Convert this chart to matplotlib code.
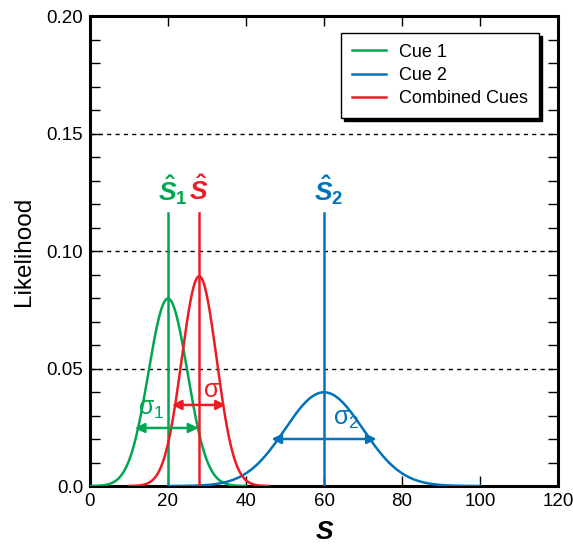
import numpy as np
import matplotlib
matplotlib.use("Agg")
import matplotlib.pyplot as plt
from matplotlib.ticker import MultipleLocator

plt.rcParams['font.family'] = ['Liberation Sans', 'DejaVu Sans']
plt.rcParams['mathtext.fontset'] = 'custom'
plt.rcParams['mathtext.it'] = 'Liberation Sans:italic:bold'
plt.rcParams['mathtext.rm'] = 'Liberation Sans:bold'
plt.rcParams['mathtext.bf'] = 'Liberation Sans:bold'

# Data
series_names = ["Cue 1", "Cue 2", "Combined Cues"]
series_means = [20.0, 60.0, 28.0]
series_sds = [5.0, 10.0, 4.47]
series_colors = ["#00A651", "#0072BC", "#ED1C24"]
marker_tops = [0.116, 0.116, 0.116]
marker_labels = [r"$\hat{S}_{1}$", r"$\hat{S}_{2}$", r"$\hat{S}$"]
arrow_y = [0.0247, 0.0200, 0.0345]
arrow_x0 = [11.5, 46.5, 21.0]
arrow_x1 = [27.8, 73.5, 34.8]
sigma_subs = ["1", "2", ""]
sigma_label_xy = [(12.3, 0.0302), (62.2, 0.0260), (29.0, 0.0379)]
yticks = [0.0, 0.05, 0.10, 0.15, 0.20]
ytick_labels = ["0.0", "0.05", "0.10", "0.15", "0.20"]
xticks = [0, 20, 40, 60, 80, 100, 120]

fig = plt.figure(figsize=(5.73, 5.47), dpi=100)
ax = fig.add_axes([0.157, 0.1115, 0.817, 0.8592])

for y in [0.05, 0.10, 0.15]:
    ax.axhline(y, color="black", lw=1.0, ls=(0, (3, 3)), zorder=1)

for i in range(3):
    m, s = series_means[i], series_sds[i]
    c = series_colors[i]
    x = np.linspace(m - 4 * s, m + 4 * s, 400)
    y = np.exp(-0.5 * ((x - m) / s) ** 2) / (np.sqrt(2 * np.pi) * s)
    ax.plot(x, y, color=c, lw=1.8, label=series_names[i], zorder=3)
    ax.plot([m, m], [0, marker_tops[i]], color=c, lw=1.8, zorder=3)
    # hat-S label: the S glyph is centred on the line, subscript hangs right
    ax.text(m - 2.6, 0.1215, marker_labels[i], color=c, fontsize=19,
            ha="left", va="baseline", zorder=4)
    ax.annotate("", xy=(arrow_x0[i], arrow_y[i]), xytext=(arrow_x1[i], arrow_y[i]),
                arrowprops=dict(arrowstyle="<|-|>", color=c, lw=1.8,
                                shrinkA=0, shrinkB=0, mutation_scale=14), zorder=4)
    sx, sy = sigma_label_xy[i]
    if sigma_subs[i]:
        lab = r"$\mathregular{\sigma_%s}$" % sigma_subs[i]
    else:
        lab = r"$\mathregular{\sigma}$"
    ax.text(sx, sy, lab, color=c, fontsize=18, fontweight="normal",
            ha="left", va="baseline", zorder=4)

ax.set_xlim(0, 120)
ax.set_ylim(0, 0.20)
ax.set_xticks(xticks)
ax.set_yticks(yticks)
ax.set_yticklabels(ytick_labels)
ax.yaxis.set_minor_locator(MultipleLocator(0.01))
ax.tick_params(axis="both", which="both", direction="in", top=True, right=True,
               labelsize=13.5, width=1.0)
ax.tick_params(axis="both", which="major", length=7, pad=5)
ax.tick_params(axis="y", which="minor", length=7)
for sp in ax.spines.values():
    sp.set_linewidth(2.2)

ax.set_xlabel("S", fontsize=19, fontweight="bold", fontstyle="italic", labelpad=7)
ax.set_ylabel("Likelihood", fontsize=17.5, labelpad=8)

leg = ax.legend(loc="upper right", bbox_to_anchor=(0.959, 0.964), borderaxespad=0,
                fontsize=13, frameon=True, fancybox=False, handlelength=1.9,
                handletextpad=0.7, labelspacing=0.35, borderpad=0.6,
                shadow={"color": "black", "alpha": 1.0})
leg.get_frame().set_edgecolor("black")
leg.get_frame().set_linewidth(1.0)

fig.savefig("out.png", dpi=100)
